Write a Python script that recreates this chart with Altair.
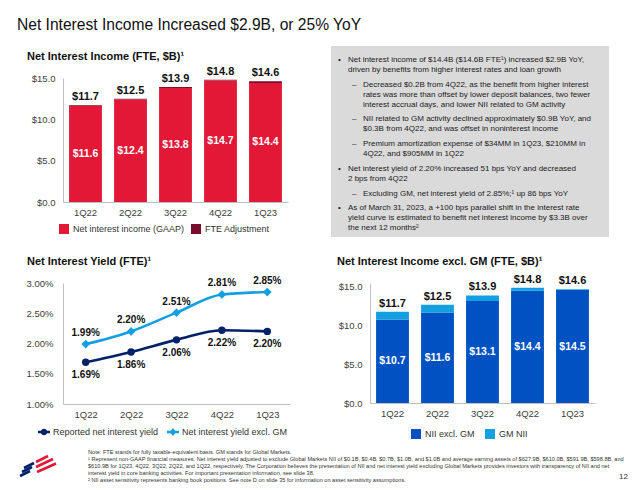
import altair as alt
import pandas as pd

# ---------------- data ----------------
quarters = ["1Q22", "2Q22", "3Q22", "4Q22", "1Q23"]
nii_gaap = [11.6, 12.4, 13.8, 14.7, 14.4]
nii_fte_total = [11.7, 12.5, 13.9, 14.8, 14.6]
yield_reported = [1.69, 1.86, 2.06, 2.22, 2.20]
yield_excl_gm = [1.99, 2.20, 2.51, 2.81, 2.85]
nii_excl_gm = [10.7, 11.6, 13.1, 14.4, 14.5]
gm_nii = [1.0, 1.0, 0.7, 0.4, 0.1]
nii_gm_total = [11.7, 12.5, 13.9, 14.8, 14.6]

nii_series = ["Net interest income (GAAP)", "FTE Adjustment"]
yield_series = ["Reported net interest yield", "Net interest yield excl. GM"]
gm_series = ["NII excl. GM", "GM NII"]

main_title = "Net Interest Income Increased $2.9B, or 25% YoY"
title_nii = "Net Interest Income (FTE, $B)¹"
title_yield = "Net Interest Yield (FTE)¹"
title_gm = "Net Interest Income excl. GM (FTE, $B)¹"

box_paragraphs = [
    (0, ["Net interest income of $14.4B ($14.6B FTE¹) increased $2.9B YoY,",
         "driven by benefits from higher interest rates and loan growth"]),
    (1, ["Decreased $0.2B from 4Q22, as the benefit from higher interest",
         "rates was more than offset by lower deposit balances, two fewer",
         "interest accrual days, and lower NII related to GM activity"]),
    (1, ["NII related to GM activity declined approximately $0.9B YoY, and",
         "$0.3B from 4Q22, and was offset in noninterest income"]),
    (1, ["Premium amortization expense of $34MM in 1Q23, $210MM in",
         "4Q22, and $905MM in 1Q22"]),
    (0, ["Net interest yield of 2.20% increased 51 bps YoY and decreased",
         "2 bps from 4Q22"]),
    (1, ["Excluding GM, net interest yield of 2.85%;¹ up 86 bps YoY"]),
    (0, ["As of March 31, 2023, a +100 bps parallel shift in the interest rate",
         "yield curve is estimated to benefit net interest income by $3.3B over",
         "the next 12 months²"]),
]

footnotes = [
    "Note: FTE stands for fully taxable-equivalent basis. GM stands for Global Markets.",
    "¹ Represent non-GAAP financial measures. Net interest yield adjusted to exclude Global Markets NII of $0.1B, $0.4B, $0.7B, $1.0B, and $1.0B and average earning assets of $627.9B, $610.0B, $591.9B, $598.8B, and",
    "$610.9B for 1Q23, 4Q22, 3Q22, 2Q22, and 1Q22, respectively. The Corporation believes the presentation of NII and net interest yield excluding Global Markets provides investors with transparency of NII and net",
    "interest yield in core banking activities. For important presentation information, see slide 38.",
    "² NII asset sensitivity represents banking book positions. See note D on slide 35 for information on asset sensitivity assumptions.",
]
page_number = "12"

# ---------------- style ----------------
SANS = "Liberation Sans, Arial, sans-serif"
RED = "#E31837"
MAROON = "#7A0C2E"
NAVY = "#012169"
LBLUE = "#139FE0"
ROYAL = "#0052C2"
BOXGRAY = "#DADADA"
AXISGRAY = "#BFBFBF"
LABELC = "#404040"
AXFS = 9.5
LEGFS = 9

ONE = pd.DataFrame({"v": [0]})


def txt(text, x, y, size=8, font=SANS, weight="normal", color="#1A1A1A",
        align="left", baseline="middle"):
    return alt.Chart(ONE).mark_text(
        text=text, font=font, fontSize=size, fontWeight=weight, color=color,
        align=align, baseline=baseline
    ).encode(x=alt.value(x), y=alt.value(y))


def rect(x1, x2, y1, y2, color, opacity=1.0):
    return alt.Chart(ONE).mark_rect(color=color, opacity=opacity).encode(
        x=alt.value(x1), x2=alt.value(x2), y=alt.value(y1), y2=alt.value(y2))


def seg(x1, y1, x2, y2, color, w=2.6):
    return alt.Chart(ONE).mark_rule(color=color, strokeWidth=w, strokeCap="butt").encode(
        x=alt.value(x1), y=alt.value(y1), x2=alt.value(x2), y2=alt.value(y2))


X_AXIS = alt.Axis(title=None, labelAngle=0, ticks=False, domainColor=AXISGRAY,
                  labelFont=SANS, labelFontSize=AXFS, labelColor=LABELC,
                  labelPadding=5, grid=False, labelOverlap=False)
MONEY_AXIS = alt.Axis(title=None, values=[0, 5, 10, 15], format="$.1f", ticks=False,
                      domainColor=AXISGRAY, grid=False, labelFont=SANS,
                      labelFontSize=AXFS, labelColor=LABELC, labelPadding=8,
                      labelOverlap=False)
PCT_AXIS = alt.Axis(title=None, values=[1.0, 1.5, 2.0, 2.5, 3.0],
                    labelExpr="format(datum.value, '.2f') + '%'", ticks=False,
                    domainColor=AXISGRAY, grid=False, labelFont=SANS, labelFontSize=AXFS,
                    labelColor=LABELC, labelPadding=10, labelOverlap=False)

band = alt.Scale(paddingInner=0.27, paddingOuter=0.135)
pt = alt.Scale(type="point", padding=0.5)


def xq(scale):
    return alt.X("quarter:N", sort=quarters, scale=scale, axis=X_AXIS)


def sq_legend(x, y, cpad):
    return alt.Legend(title=None, orient="none", legendX=x, legendY=y,
                      direction="horizontal", symbolType="square", symbolSize=100,
                      symbolStrokeWidth=0, labelFont=SANS, labelFontSize=LEGFS,
                      labelColor="#333333", labelOffset=4, columnPadding=cpad,
                      padding=0)


# ---------------- cell A (top-left spacer, carries page title) ----------------
cellA = alt.layer(
    rect(0, 624, -70, 0, "white", 0.0),
    txt(main_title, 9, -48, size=15.6, color="#111111", baseline="alphabetic"),
).properties(width=55, height=124)

# ---------------- NII chart ----------------
nii_df = pd.DataFrame({
    "quarter": quarters * 2,
    "series": [nii_series[0]] * 5 + [nii_series[1]] * 5,
    "value": nii_gaap + [round(t - g, 2) for t, g in zip(nii_fte_total, nii_gaap)],
    "ord": [0] * 5 + [1] * 5,
})
nii_lab = pd.DataFrame({
    "quarter": quarters,
    "total": nii_fte_total,
    "mid": [g / 2 for g in nii_gaap],
    "gtxt": [f"${v:.1f}" for v in nii_gaap],
    "ttxt": [f"${v:.1f}" for v in nii_fte_total],
})
nii_y = alt.Scale(domain=[0, 15], nice=False)

nii_bars = alt.Chart(nii_df).mark_bar().encode(
    x=xq(band),
    y=alt.Y("value:Q", stack="zero", scale=nii_y, axis=MONEY_AXIS),
    color=alt.Color("series:N", scale=alt.Scale(domain=nii_series, range=[RED, MAROON]),
                    legend=sq_legend(-4, 146, 6)),
    order=alt.Order("ord:Q"),
)
nii_in = alt.Chart(nii_lab).mark_text(font=SANS, fontWeight="bold", fontSize=10.5, color="white").encode(
    x=xq(band), y=alt.Y("mid:Q", scale=nii_y, axis=MONEY_AXIS), text="gtxt:N")
nii_top = alt.Chart(nii_lab).mark_text(font=SANS, fontWeight="bold", fontSize=11, color="#111111", dy=-8).encode(
    x=xq(band), y=alt.Y("total:Q", scale=nii_y, axis=MONEY_AXIS), text="ttxt:N")

nii_chart = alt.layer(
    nii_bars, nii_in, nii_top,
    txt(title_nii, -36, -18, size=11, weight="bold", color="#111111", baseline="alphabetic"),
).properties(width=225, height=124)

# ---------------- cell B spacer ----------------
cellB = rect(0, 80, 0, 124, "white", 0.0).properties(width=80, height=124)

# ---------------- text box ----------------
box_layers = [rect(-39, 239, -32, 159, BOXGRAY)]
line_i = 0
for p, (level, lines) in enumerate(box_paragraphs):
    for j, line in enumerate(lines):
        y = 60 + 10 * line_i + 4.7 * p - 78
        tx = (348 if level == 0 else 363) - 370
        if j == 0:
            bx = (338 if level == 0 else 352) - 370
            box_layers.append(txt("•" if level == 0 else "–", bx, y, size=8))
        box_layers.append(txt(line, tx, y, size=8))
        line_i += 1
box_chart = alt.layer(*box_layers).properties(width=225, height=124)

# ---------------- cell C (bottom-left spacer: footnotes, logo, page number) ----------------
foot_layers = [rect(0, 55, 0, 121, "white", 0.0)]
for k, line in enumerate(footnotes):
    foot_layers.append(txt(line, 80, 169 + 7 * k, size=5.6, color="#333333"))
foot_layers.append(txt(page_number, 620, 194, size=8, color="#333333", align="right"))
logo_navy = [(24, 468, 34, 463), (22, 472, 32, 467), (20, 476, 30, 471)]
logo_red = [(36, 462, 48, 456), (36, 467, 53, 459), (37, 472, 56, 463.5)]
for (a, b, c, d) in logo_navy:
    foot_layers.append(seg(a - 8, b - 283, c - 8, d - 283, NAVY))
for (a, b, c, d) in logo_red:
    foot_layers.append(seg(a - 8, b - 283, c - 8, d - 283, RED))
cellC = alt.layer(*foot_layers).properties(width=55, height=121)

# ---------------- yield chart ----------------
yscale = alt.Scale(domain=[1.0, 3.0], nice=False)
rep_df = pd.DataFrame({"quarter": quarters, "value": yield_reported,
                       "t": [f"{v:.2f}%" for v in yield_reported], "series": yield_series[0]})
exc_df = pd.DataFrame({"quarter": quarters, "value": yield_excl_gm,
                       "t": [f"{v:.2f}%" for v in yield_excl_gm], "series": yield_series[1]})
both_df = pd.concat([rep_df, exc_df], ignore_index=True)


def yy():
    return alt.Y("value:Q", scale=yscale, axis=PCT_AXIS)


rep_line = alt.Chart(rep_df).mark_line(color=NAVY, strokeWidth=2.6, interpolate="monotone").encode(
    x=xq(pt), y=yy())
exc_line = alt.Chart(exc_df).mark_line(color=LBLUE, strokeWidth=2.6, interpolate="monotone").encode(
    x=xq(pt), y=yy())
rep_pts = alt.Chart(rep_df).mark_point(shape="circle", filled=True, size=55, color=NAVY, opacity=1).encode(
    x=xq(pt), y=yy())
exc_pts = alt.Chart(exc_df).mark_point(shape="diamond", filled=True, size=75, color=LBLUE, opacity=1).encode(
    x=xq(pt), y=yy())
rep_txt = alt.Chart(rep_df).mark_text(font=SANS, fontWeight="bold", fontSize=10, color="#111111", dy=13).encode(
    x=xq(pt), y=yy(), text="t:N")
exc_txt = alt.Chart(exc_df).mark_text(font=SANS, fontWeight="bold", fontSize=10, color="#111111", dy=-11).encode(
    x=xq(pt), y=yy(), text="t:N")

sym_circle = ("M-1,-0.2L1,-0.2L1,0.2L-1,0.2Z"
              "M-0.55,0A0.55,0.55,0,1,1,0.55,0A0.55,0.55,0,1,1,-0.55,0Z")
sym_diamond = "M-1,-0.2L1,-0.2L1,0.2L-1,0.2ZM0,-0.62L0.62,0L0,0.62L-0.62,0Z"
ylegend = alt.Legend(title=None, orient="none", legendX=-25, legendY=143, direction="horizontal",
                     symbolSize=144, symbolStrokeWidth=0, symbolOpacity=1, labelFont=SANS,
                     labelFontSize=LEGFS, labelColor="#333333", labelOffset=3, columnPadding=8,
                     padding=0)
y_leg = alt.Chart(both_df).mark_point(filled=True, opacity=0).encode(
    x=xq(pt), y=yy(),
    color=alt.Color("series:N", scale=alt.Scale(domain=yield_series, range=[NAVY, LBLUE]), legend=ylegend),
    shape=alt.Shape("series:N", scale=alt.Scale(domain=yield_series, range=[sym_circle, sym_diamond]),
                    legend=ylegend),
)

yield_chart = alt.layer(
    rep_line, exc_line, rep_pts, exc_pts, rep_txt, exc_txt, y_leg,
    txt(title_yield, -36, -18, size=11, weight="bold", color="#111111", baseline="alphabetic"),
).properties(width=227, height=121)

# ---------------- cell D spacer ----------------
cellD = rect(0, 80, 0, 121, "white", 0.0).properties(width=80, height=121)

# ---------------- NII excl GM chart ----------------
gm_df = pd.DataFrame({
    "quarter": quarters * 2,
    "series": [gm_series[0]] * 5 + [gm_series[1]] * 5,
    "value": nii_excl_gm + gm_nii,
    "ord": [0] * 5 + [1] * 5,
})
gm_lab = pd.DataFrame({
    "quarter": quarters,
    "top": [a + b for a, b in zip(nii_excl_gm, gm_nii)],
    "mid": [a / 2 for a in nii_excl_gm],
    "itxt": [f"${v:.1f}" for v in nii_excl_gm],
    "ttxt": [f"${v:.1f}" for v in nii_gm_total],
})
gm_y = alt.Scale(domain=[0, 15.4], nice=False)
gm_bars = alt.Chart(gm_df).mark_bar().encode(
    x=xq(band),
    y=alt.Y("value:Q", stack="zero", scale=gm_y, axis=MONEY_AXIS),
    color=alt.Color("series:N", scale=alt.Scale(domain=gm_series, range=[ROYAL, LBLUE]),
                    legend=sq_legend(41, 146, 10)),
    order=alt.Order("ord:Q"),
)
gm_in = alt.Chart(gm_lab).mark_text(font=SANS, fontWeight="bold", fontSize=10.5, color="white").encode(
    x=xq(band), y=alt.Y("mid:Q", scale=gm_y, axis=MONEY_AXIS), text="itxt:N")
gm_top = alt.Chart(gm_lab).mark_text(font=SANS, fontWeight="bold", fontSize=11, color="#111111", dy=-8).encode(
    x=xq(band), y=alt.Y("top:Q", scale=gm_y, axis=MONEY_AXIS), text="ttxt:N")
gm_chart = alt.layer(
    gm_bars, gm_in, gm_top,
    txt(title_gm, -33, -18, size=11, weight="bold", color="#111111", baseline="alphabetic"),
).properties(width=225, height=120)

# ---------------- assemble ----------------
chart = alt.concat(
    cellA, nii_chart, cellB, box_chart,
    cellC, yield_chart, cellD, gm_chart,
    columns=4, spacing={"row": 81, "column": 0}, bounds="flush",
).properties(padding=0, background="white").configure_view(strokeWidth=0).resolve_scale(
    color="independent", shape="independent", x="independent", y="independent"
)

chart.save("out.html", embed_options={"renderer": "svg", "actions": False})
